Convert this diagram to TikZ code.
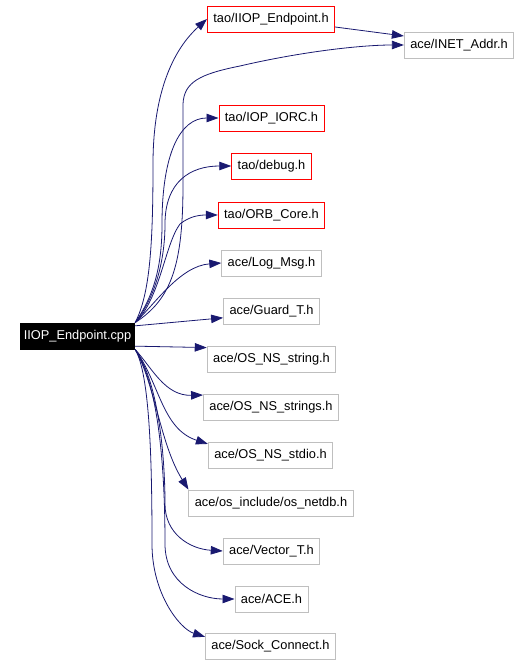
\documentclass[tikz,border=0pt]{standalone}
\usepackage{fontspec}
\setmainfont{Liberation Sans}
\usetikzlibrary{
  arrows.meta,
  positioning
}
\definecolor{incEdge}{HTML}{191970}
\definecolor{incRed}{HTML}{FF0000}
\definecolor{incGray}{HTML}{BFBFBF}
\tikzset{
  fileBox/.style={
    rectangle,
    draw,
    line width=0.8pt,
    minimum height=26pt,
    inner xsep=6pt,
    inner ysep=2pt,
    font=\fontsize{12.8}{14}\selectfont
  },
  mainBox/.style={fileBox, draw=black, fill=black, text=white, inner xsep=3.5pt},
  taoBox/.style={fileBox, draw=incRed},
  aceBox/.style={fileBox, draw=incGray},
  incArrow/.style={
    incEdge,
    line width=0.8pt,
    -{Triangle[length=12pt,width=8.5pt]}
  }
}

\begin{document}
\begin{tikzpicture}[x=1pt,y=1pt]
  \useasboundingbox (0,0) rectangle (531,664);

  % the source file
  \node[mainBox] (main) at (77.5,328) {IIOP\_Endpoint.cpp};

  % included headers
  \node[taoBox] (iiopH) at (271,645) {tao/IIOP\_Endpoint.h};
  \node[aceBox] (inet) at (459,619) {ace/INET\_Addr.h};
  \node[taoBox] (iorc) at (271.5,546) {tao/IOP\_IORC.h};
  \node[taoBox] (debug) at (271.5,498) {tao/debug.h};
  \node[taoBox] (orbCore) at (271.5,449) {tao/ORB\_Core.h};
  \node[aceBox] (logMsg) at (271.5,401) {ace/Log\_Msg.h};
  \node[aceBox] (guard) at (271.5,353) {ace/Guard\_T.h};
  \node[aceBox] (nsString) at (271.5,305) {ace/OS\_NS\_string.h};
  \node[aceBox] (nsStrings) at (271,257) {ace/OS\_NS\_strings.h};
  \node[aceBox] (nsStdio) at (270.5,209) {ace/OS\_NS\_stdio.h};
  \node[aceBox] (netdb) at (271,161) {ace/os\_include/os\_netdb.h};
  \node[aceBox] (vector) at (271.5,113) {ace/Vector\_T.h};
  \node[aceBox] (aceH) at (271.5,65) {ace/ACE.h};
  \node[aceBox] (sock) at (270.5,18) {ace/Sock\_Connect.h};

  % edges going up
  \draw[incArrow] (main.north east) .. controls (150,370) and (153,420)
    .. (153,500) .. controls (153,590) and (185,625) .. (iiopH.west);
  \draw[incArrow] ([yshift=-8pt]iiopH.east) -- ([yshift=9pt]inet.west);
  \draw[incArrow] (main.north east) .. controls (172,365) and (183,400)
    .. (183,480) -- (183,560) .. controls (184,582) and (200,590)
    .. (240,598) .. controls (300,612) and (360,619) .. (inet.west);
  \draw[incArrow] (main.north east) .. controls (155,370) and (162,400)
    .. (162,440) .. controls (162,510) and (180,546) .. (iorc.west);
  \draw[incArrow] (main.north east) .. controls (158,370) and (165,410)
    .. (165,440) .. controls (165,482) and (190,498) .. (debug.west);
  \draw[incArrow] (main.north east) .. controls (160,365) and (165,420)
    .. (180,440) .. controls (190,448) and (200,449) .. (orbCore.west);
  \draw[incArrow] (main.north east) .. controls (155,360) and (180,398)
    .. (logMsg.west);
  \draw[incArrow] (main.10) -- (guard.188);

  % edges going down
  \draw[incArrow] (main.-10) -- (nsString.170);
  \draw[incArrow] (main.south east) .. controls (152,296) and (165,268)
    .. (nsStrings.170);
  \draw[incArrow] (main.south east) .. controls (160,280) and (162,235)
    .. (nsStdio.170);
  \draw[incArrow] (main.south east) .. controls (155,280) and (160,220)
    .. (netdb.north west);
  \draw[incArrow] (main.south east) .. controls (160,280) and (165,200)
    .. (165,160) .. controls (165,130) and (190,115) .. (vector.west);
  \draw[incArrow] (main.south east) .. controls (158,280) and (165,200)
    .. (165,120) .. controls (165,80) and (200,65) .. (aceH.west);
  \draw[incArrow] (main.south east) .. controls (150,290) and (152,200)
    .. (152,120) .. controls (152,70) and (180,35) .. (sock.172);
\end{tikzpicture}
\end{document}
